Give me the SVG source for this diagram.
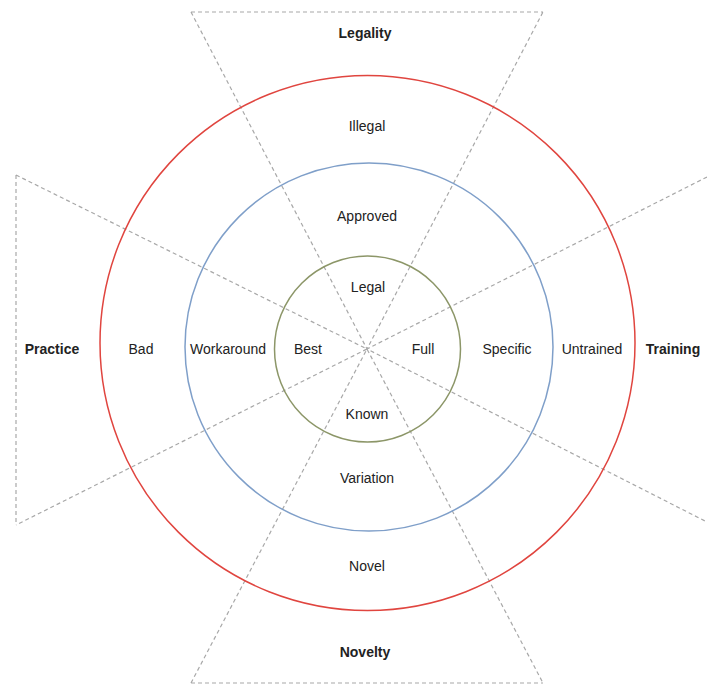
<svg xmlns="http://www.w3.org/2000/svg" width="707" height="684" viewBox="0 0 707 684">
<style>
.d{stroke:#a8a8a8;stroke-width:1.2;stroke-dasharray:4,3;fill:none}
.t{font-family:"Liberation Sans",Arial,sans-serif;font-size:14px;fill:#222;text-anchor:middle;dominant-baseline:central}
.b{font-weight:bold}
.c{fill:none;stroke-width:1.5}
</style>
<rect width="707" height="684" fill="#fff"/>
<g id="connectors">
<path class="d" d="M191,12 L543,12 M191,12 L367,349 L543,12"/>
<path class="d" d="M16,175 L16,525 M16,175 L367,349 L16,525"/>
<path class="d" d="M707,177 L367,349 L707,522"/>
<path class="d" d="M191,683 L543,683 M191,683 L367,349 L543,683"/>
</g>
<g id="ring-outer"><circle class="c" cx="367.5" cy="343" r="267.5" stroke="#e0453f"/></g>
<g id="ring-middle"><circle class="c" cx="369" cy="347" r="184" stroke="#7f9fc9"/></g>
<g id="ring-inner"><circle class="c" cx="367.5" cy="349" r="93" stroke="#8c9668"/></g>
<g id="legality"><text class="t b" x="365" y="33">Legality</text></g>
<g id="illegal"><text class="t" x="367" y="126">Illegal</text></g>
<g id="approved"><text class="t" x="367" y="216">Approved</text></g>
<g id="legal"><text class="t" x="368" y="287">Legal</text></g>
<g id="practice"><text class="t b" x="52" y="349">Practice</text></g>
<g id="bad"><text class="t" x="141" y="349">Bad</text></g>
<g id="workaround"><text class="t" x="228" y="349">Workaround</text></g>
<g id="best"><text class="t" x="308" y="349">Best</text></g>
<g id="full"><text class="t" x="423" y="349">Full</text></g>
<g id="specific"><text class="t" x="507" y="349">Specific</text></g>
<g id="untrained"><text class="t" x="592" y="349">Untrained</text></g>
<g id="training"><text class="t b" x="673" y="349">Training</text></g>
<g id="known"><text class="t" x="367" y="414">Known</text></g>
<g id="variation"><text class="t" x="367" y="478">Variation</text></g>
<g id="novel"><text class="t" x="367" y="566">Novel</text></g>
<g id="novelty"><text class="t b" x="365" y="652">Novelty</text></g>
</svg>
